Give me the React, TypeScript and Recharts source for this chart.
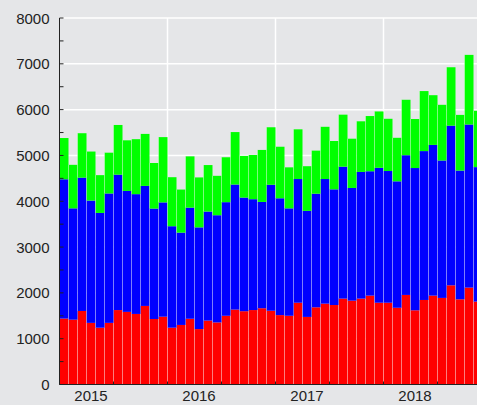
import React from 'react';
import { BarChart, Bar, XAxis, YAxis, CartesianGrid } from 'recharts';

const MONTHS = [
  '2014-10', '2014-11', '2014-12',
  '2015-01', '2015-02', '2015-03', '2015-04', '2015-05', '2015-06', '2015-07', '2015-08', '2015-09', '2015-10', '2015-11', '2015-12',
  '2016-01', '2016-02', '2016-03', '2016-04', '2016-05', '2016-06', '2016-07', '2016-08', '2016-09', '2016-10', '2016-11', '2016-12',
  '2017-01', '2017-02', '2017-03', '2017-04', '2017-05', '2017-06', '2017-07', '2017-08', '2017-09', '2017-10', '2017-11', '2017-12',
  '2018-01', '2018-02', '2018-03', '2018-04', '2018-05', '2018-06', '2018-07', '2018-08',
];

const RED = [
  1440, 1415, 1605, 1345, 1240, 1345, 1625, 1585, 1540, 1715, 1430, 1480,
  1240, 1300, 1435, 1210, 1395, 1355, 1500, 1635, 1600, 1625, 1665, 1610,
  1515, 1500, 1785, 1475, 1685, 1765, 1735, 1875, 1830, 1875, 1940, 1785,
  1785, 1675, 1955, 1620, 1845, 1940, 1890, 2165, 1860, 2115, 1810,
];

const BLUE = [
  3040, 2430, 2910, 2670, 2505, 2825, 2955, 2640, 2615, 2620, 2410, 2495,
  2215, 2015, 2425, 2220, 2380, 2340, 2480, 2730, 2480, 2420, 2320, 2750,
  2550, 2345, 2700, 2315, 2480, 2720, 2525, 2880, 2460, 2765, 2715, 2945,
  2875, 2760, 3050, 3105, 3250, 3290, 3000, 3485, 2810, 3560, 2935,
];

const GREEN = [
  900, 950, 970, 1070, 825, 890, 1085, 1105, 1200, 1135, 995, 1425,
  1070, 940, 1120, 1090, 1015, 860, 980, 1145, 910, 965, 1135, 1255,
  1125, 895, 1085, 975, 940, 1140, 1055, 1135, 1075, 1105, 1205, 1230,
  1140, 950, 1210, 1070, 1310, 1085, 1215, 1275, 1215, 1520, 1230,
];

const Y_TICKS = [0, 500, 1000, 1500, 2000, 2500, 3000, 3500, 4000, 4500, 5000, 5500, 6000, 6500, 7000, 7500, 8000];
const Y_GRID = [1000, 2000, 3000, 4000, 5000, 6000, 7000, 8000];
const X_GRID = ['2015-10', '2016-10', '2017-10'];

const BG = '#e5e6e8';
const INK = '#222222';
const FONT = '"Liberation Sans", Arial, sans-serif';
const BAND = 9;

const data = MONTHS.map((m, i) => ({ m, red: RED[i], blue: BLUE[i], green: GREEN[i] }));

const YTick = ({ x, y, payload }: any) => (
  <g>
    <line x1={x + 10} x2={x + 14} y1={y} y2={y} stroke={INK} strokeWidth={1} />
    {payload.value % 1000 === 0 && (
      <text x={x} y={y} textAnchor="end" dominantBaseline="central" fill={INK} fontSize={15} fontFamily={FONT}>
        {payload.value}
      </text>
    )}
  </g>
);

const XTick = ({ x, y, payload }: any) => {
  const v: string = payload.value;
  const mon = v.slice(5);
  return (
    <g>
      {(mon === '04' || mon === '10') && (
        <line x1={x - BAND / 2} x2={x - BAND / 2} y1={y} y2={y - 3} stroke={INK} strokeWidth={1} />
      )}
      {mon === '01' && (
        <text x={x} y={y + 11} textAnchor="middle" dominantBaseline="central" fill={INK} fontSize={15} fontFamily={FONT}>
          {v.slice(0, 4)}
        </text>
      )}
    </g>
  );
};

const SeparatedBar = (props: any) => {
  const { x, y, width, height, fill, index } = props;
  if (!height || height <= 0) return null;
  return (
    <g>
      <rect x={x} y={y} width={width} height={height} fill={fill} />
      {index > 0 && (
        <line x1={x} x2={x} y1={y} y2={y + height} stroke="#ffffff" strokeOpacity={0.35} strokeWidth={1} />
      )}
    </g>
  );
};

export default function App() {
  return (
    <div style={{ position: 'absolute', left: 0, top: 0, width: 477, height: 405, overflow: 'hidden', background: BG }}>
      <BarChart
        width={490}
        height={405}
        data={data}
        margin={{ top: 18, right: 7.5, left: 0.5, bottom: 0.5 }}
        barCategoryGap={0}
        barGap={0}
      >
        <CartesianGrid
          stroke="#ffffff"
          strokeWidth={1.5}
          horizontalValues={Y_GRID}
          verticalCoordinatesGenerator={({ offset }: any) =>
            X_GRID.map((m) => offset.left + (offset.width * MONTHS.indexOf(m)) / MONTHS.length)
          }
        />
        <XAxis
          dataKey="m"
          interval={0}
          height={20}
          tickSize={0}
          tickMargin={0}
          tickLine={false}
          axisLine={{ stroke: INK, strokeWidth: 1 }}
          tick={<XTick />}
        />
        <YAxis
          type="number"
          domain={[0, 8000]}
          ticks={Y_TICKS}
          interval={0}
          width={59}
          tickSize={0}
          tickMargin={10}
          tickLine={false}
          axisLine={{ stroke: INK, strokeWidth: 1 }}
          tick={<YTick />}
        />
        <Bar dataKey="red" stackId="a" fill="#ff0000" isAnimationActive={false} shape={<SeparatedBar />} />
        <Bar dataKey="blue" stackId="a" fill="#0000ff" isAnimationActive={false} shape={<SeparatedBar />} />
        <Bar dataKey="green" stackId="a" fill="#00ff00" isAnimationActive={false} shape={<SeparatedBar />} />
      </BarChart>
    </div>
  );
}
